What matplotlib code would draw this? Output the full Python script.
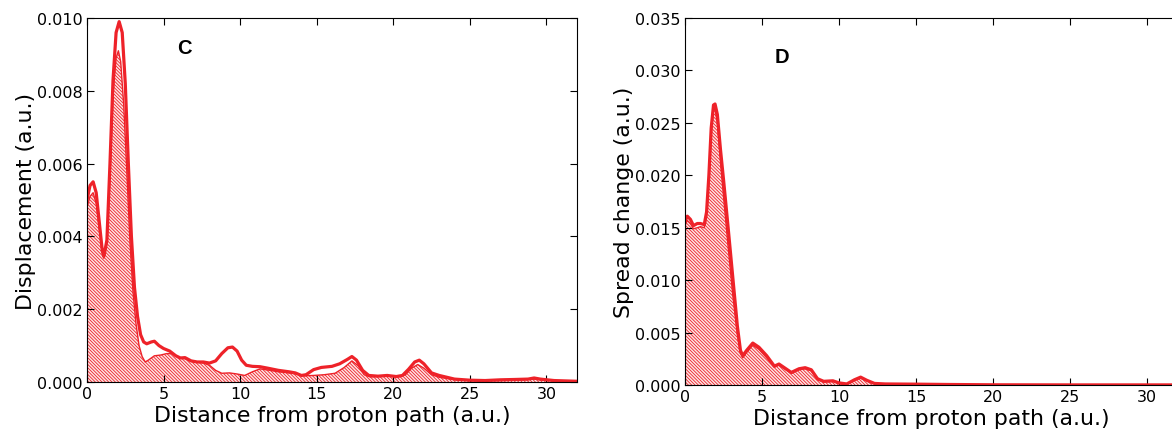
import matplotlib
matplotlib.use("Agg")
import matplotlib.pyplot as plt

# panel C: displacement (units of 1e-3), outer = thick curve, inner = hatched curve
c_outer_x = [0, 0.2, 0.4, 0.6, 0.8, 1.0, 1.1, 1.3, 1.5, 1.7, 1.9, 2.1, 2.3, 2.5, 2.7, 2.9, 3.1, 3.3,
             3.5, 3.7, 3.9, 4.2, 4.4, 4.7, 5.0, 5.4, 5.8, 6.1, 6.4, 6.8, 7.2, 7.6, 8.0, 8.4, 8.8,
             9.2, 9.5, 9.8, 10.1, 10.4, 10.8, 11.3, 11.8, 12.5, 13.2, 13.6, 14.0, 14.3, 14.8, 15.3,
             16.0, 16.5, 17.0, 17.3, 17.6, 18.0, 18.4, 19.0, 19.6, 20.2, 20.6, 21.0, 21.4, 21.7,
             22.0, 22.5, 23.0, 23.5, 24.0, 25.0, 26.0, 27.0, 28.0, 28.8, 29.2, 29.6, 30.5, 32.0]
c_outer_y = [5.0, 5.4, 5.5, 5.2, 4.4, 3.6, 3.45, 3.9, 6.0, 8.3, 9.6, 9.9, 9.6, 8.2, 6.0, 4.0, 2.6, 1.8,
             1.3, 1.1, 1.05, 1.1, 1.12, 1.0, 0.92, 0.85, 0.72, 0.66, 0.67, 0.58, 0.55, 0.55, 0.52, 0.58, 0.78,
             0.94, 0.96, 0.85, 0.6, 0.46, 0.43, 0.42, 0.38, 0.32, 0.28, 0.25, 0.18, 0.2, 0.34, 0.4,
             0.43, 0.5, 0.62, 0.7, 0.6, 0.32, 0.18, 0.16, 0.18, 0.15, 0.18, 0.35, 0.55, 0.6,
             0.5, 0.25, 0.18, 0.13, 0.08, 0.05, 0.04, 0.06, 0.07, 0.08, 0.11, 0.08, 0.04, 0.02]
c_inner_x = [0, 0.2, 0.4, 0.6, 0.8, 1.0, 1.1, 1.3, 1.5, 1.7, 1.9, 2.05, 2.2, 2.4, 2.6, 2.8, 3.0, 3.2,
             3.4, 3.6, 3.8, 4.0, 4.4, 4.8, 5.2, 5.6, 6.0, 6.4, 6.8, 7.2, 7.6, 8.0, 8.4, 8.8, 9.3,
             9.8, 10.3, 10.8, 11.3, 11.8, 12.5, 13.2, 13.7, 14.2, 14.8, 15.5, 16.2, 16.8, 17.3, 17.7,
             18.1, 18.5, 19.2, 19.8, 20.3, 20.8, 21.2, 21.6, 22.0, 22.5, 23.0, 23.6, 24.2, 25.0,
             27.0, 28.5, 29.2, 29.8, 31.0, 32.0]
c_inner_y = [4.8, 5.1, 5.2, 4.9, 4.2, 3.55, 3.4, 3.8, 5.7, 7.9, 8.9, 9.1, 8.8, 7.6, 5.8, 3.9, 2.5, 1.6,
             1.0, 0.7, 0.55, 0.6, 0.72, 0.74, 0.78, 0.78, 0.68, 0.64, 0.58, 0.55, 0.52, 0.46, 0.32, 0.24, 0.25,
             0.22, 0.18, 0.28, 0.36, 0.33, 0.28, 0.25, 0.22, 0.17, 0.18, 0.2, 0.24, 0.4, 0.58, 0.45,
             0.2, 0.14, 0.16, 0.17, 0.14, 0.2, 0.38, 0.48, 0.38, 0.2, 0.13, 0.09, 0.06, 0.04,
             0.04, 0.06, 0.08, 0.05, 0.03, 0.02]

# panel D: spread change (units of 1e-3)
d_x = [0, 0.15, 0.35, 0.55, 0.8, 1.0, 1.25, 1.4, 1.55, 1.7, 1.85, 1.95, 2.1, 2.3, 2.5, 2.8, 3.1, 3.4,
       3.6, 3.75, 4.0, 4.4, 4.8, 5.3, 5.8, 6.1, 6.4, 6.9, 7.4, 7.8, 8.2, 8.6, 9.0, 9.6, 10.0, 10.5,
       11.0, 11.4, 11.8, 12.3, 13.0, 15.0, 17.0, 20.0, 25.0, 32.0]
d_outer_y = [15.6, 16.1, 15.8, 15.2, 15.4, 15.4, 15.3, 16.5, 20.0, 24.5, 26.7, 26.8, 25.8, 22.5, 19.6, 15.0,
             10.3, 5.6, 3.3, 2.8, 3.3, 4.0, 3.6, 2.8, 1.8, 2.0, 1.7, 1.2, 1.55, 1.65, 1.45, 0.6, 0.35, 0.4,
             0.2, 0.1, 0.5, 0.75, 0.45, 0.15, 0.1, 0.08, 0.05, 0.02, 0.01, 0.01]
d_inner_y = [15.2, 15.7, 15.4, 14.9, 15.0, 15.1, 15.0, 16.0, 19.4, 24.0, 26.2, 26.3, 25.0, 21.3, 18.0, 13.2,
             8.6, 4.8, 3.0, 2.6, 3.1, 3.8, 3.4, 2.6, 1.7, 1.9, 1.6, 1.1, 1.45, 1.55, 1.35, 0.5, 0.3, 0.35,
             0.15, 0.08, 0.45, 0.65, 0.4, 0.12, 0.08, 0.06, 0.04, 0.02, 0.01, 0.01]

red = '#ee2229'
plt.rcParams['hatch.linewidth'] = 0.6
plt.rcParams['hatch.color'] = red

W, H = 1172, 439
fig = plt.figure(figsize=(W / 100, H / 100), dpi=100)
axC = fig.add_axes([87 / W, 56 / H, 490 / W, 364 / H])
axD = fig.add_axes([685 / W, 53 / H, 493 / W, 367 / H])


def draw(ax, xo, yo, xi, yi, ymax, yticks, ylabel, letter, lpos, right=True):
    yo = [v / 1000 for v in yo]
    yi = [v / 1000 for v in yi]
    ax.fill_between(xi, yi, 0, facecolor='#fde4e4', edgecolor=red, hatch='\\' * 10, linewidth=0)
    ax.plot(xi, yi, color=red, lw=1.0)
    ax.plot(xo, yo, color=red, lw=2.3, solid_joinstyle='round')
    ax.set_xlim(0, 32)
    ax.set_ylim(0, ymax)
    ax.set_xticks([0, 5, 10, 15, 20, 25, 30])
    ax.set_yticks(yticks)
    ax.set_yticklabels(['%.3f' % t for t in yticks])
    ax.tick_params(direction='in', top=True, right=right, length=5, labelsize=11.5, pad=3)
    ax.set_xlabel('Distance from proton path (a.u.)', fontsize=15.8, labelpad=3)
    ax.set_ylabel(ylabel, fontsize=15.8, labelpad=1)
    ax.text(lpos[0], lpos[1], letter, transform=ax.transAxes, fontsize=14.5,
            fontweight='bold', family='Liberation Sans', ha='center', va='center')


draw(axC, c_outer_x, c_outer_y, c_inner_x, c_inner_y, 0.010,
     [0, 0.002, 0.004, 0.006, 0.008, 0.010], 'Displacement (a.u.)', 'C', (0.198, 0.92))
draw(axD, d_x, d_outer_y, d_x, d_inner_y, 0.035,
     [0, 0.005, 0.010, 0.015, 0.020, 0.025, 0.030, 0.035], 'Spread change (a.u.)', 'D', (0.197, 0.895),
     right=False)

fig.savefig('out.png', dpi=100)
